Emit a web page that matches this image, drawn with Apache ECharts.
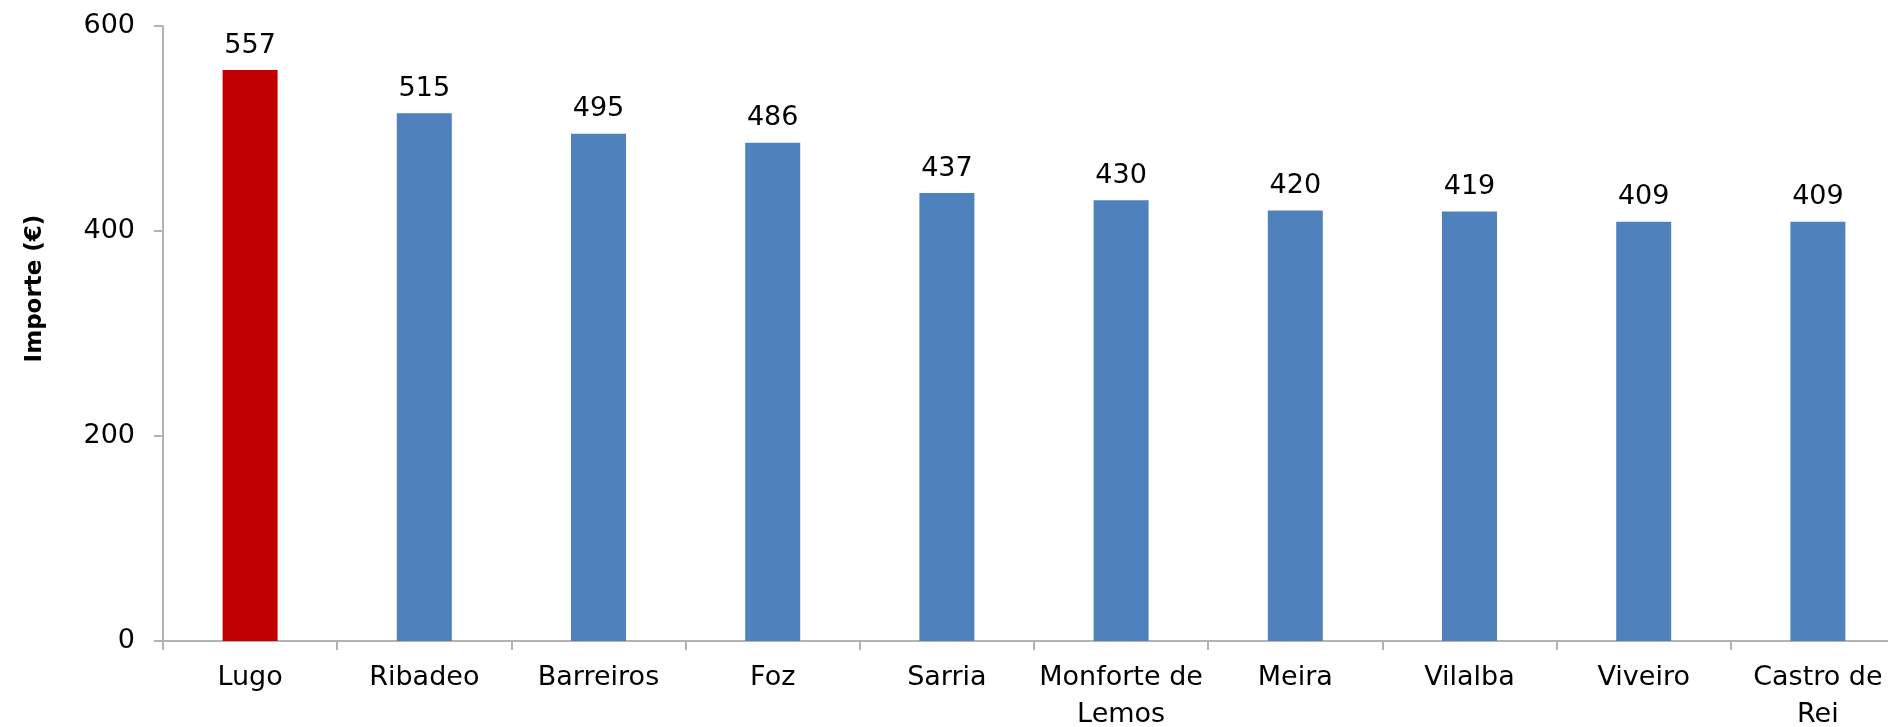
<!DOCTYPE html>
<html>
<head>
<meta charset="utf-8">
<script src="https://cdn.jsdelivr.net/npm/echarts@6/dist/echarts.min.js"></script>
<style>
  html, body { margin: 0; padding: 0; background: #fff; }
  #chart { width: 1888px; height: 727px; }
</style>
</head>
<body>
<div id="chart"></div>
<script>
// municipios y su importe
var categories = ['Lugo', 'Ribadeo', 'Barreiros', 'Foz', 'Sarria', 'Monforte de\nLemos', 'Meira', 'Vilalba', 'Viveiro', 'Castro de\nRei'];
var importes = [557, 515, 495, 486, 437, 430, 420, 419, 409, 409];
var yTicks = [0, 200, 400, 600];

var axisGray = '#b3b3b3';
var font = 'DejaVu Sans';

var myChart = echarts.init(document.getElementById('chart'));

var barData = importes.map(function(v, i) {
	return {
		value: v,
		itemStyle: { color: i === 0 ? '#c00000' : '#4f81bd' }
	};
});

var option = {
	animation: false,
	grid: { left: 163, right: -17, top: 26, bottom: 86, outerBoundsMode: 'none', containLabel: false },
	xAxis: {
		type: 'category',
		data: categories,
		axisLine: { lineStyle: { color: axisGray, width: 2 } },
		axisTick: { show: true, length: 9, lineStyle: { color: axisGray, width: 2 } },
		axisLabel: {
			interval: 0,
			margin: 18,
			fontFamily: font,
			fontSize: 27,
			lineHeight: 37,
			color: '#000'
		}
	},
	yAxis: {
		type: 'value',
		min: yTicks[0],
		max: yTicks[yTicks.length - 1],
		interval: 200,
		name: 'Importe (€)',
		nameLocation: 'middle',
		nameRotate: 90,
		nameGap: 116,
		nameTextStyle: {
			fontFamily: font,
			fontSize: 23,
			fontWeight: 'bold',
			color: '#000',
			padding: [0, 0, 0, 90]
		},
		axisLine: { show: true, lineStyle: { color: axisGray, width: 2 } },
		axisTick: { show: true, length: 9, lineStyle: { color: axisGray, width: 2 } },
		splitLine: { show: false },
		axisLabel: {
			margin: 28,
			fontFamily: font,
			fontSize: 27,
			color: '#000'
		}
	},
	series: [{
		type: 'bar',
		data: barData,
		barWidth: 55,
		label: {
			show: true,
			position: 'top',
			distance: 11,
			fontFamily: font,
			fontSize: 27,
			color: '#000'
		}
	}]
};
myChart.setOption(option);
</script>
</body>
</html>
